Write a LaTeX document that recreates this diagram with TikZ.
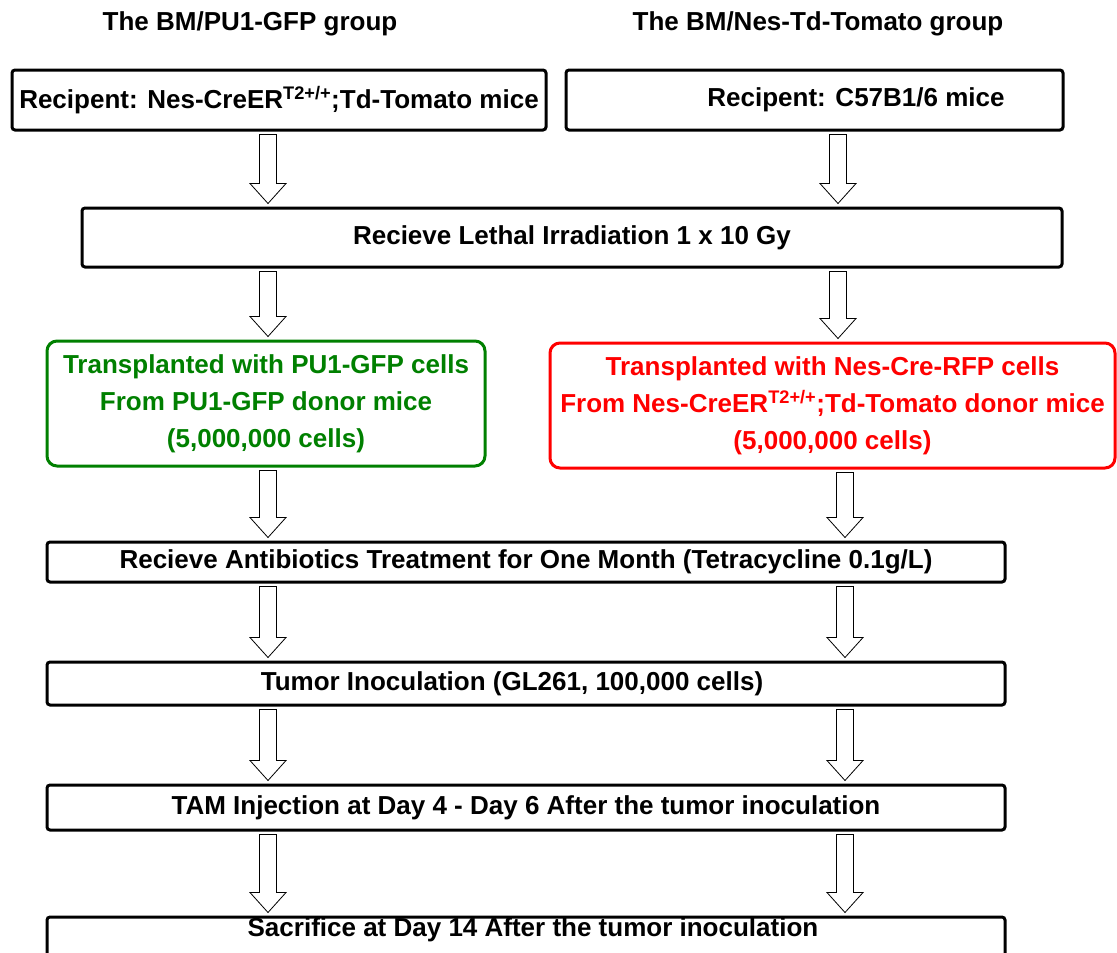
\documentclass[tikz,border=0pt]{standalone}
\usepackage{fontspec}
\setmainfont{Liberation Sans}
\usetikzlibrary{calc}

\definecolor{gfpgreen}{RGB}{0,128,0}
\definecolor{rfpred}{RGB}{255,0,0}

% hollow block arrow between two points (same x)
\newcommand{\hollowarrow}[2]{%
  \draw[flowarrow] let \p1=(#1), \p2=(#2) in
    (\x1-8.5pt,\y1-3pt) -- (\x1+8.5pt,\y1-3pt) -- (\x1+8.5pt,\y2+23pt) -- (\x1+18pt,\y2+23pt)
    -- (\x1,\y2+3pt) -- (\x1-18pt,\y2+23pt) -- (\x1-8.5pt,\y2+23pt) -- cycle;}

\begin{document}
\begin{tikzpicture}[x=1pt, y=-1pt,
    font=\bfseries\fontsize{26}{37}\selectfont,
    stepbox/.style={draw=black, line width=3pt, rounded corners=3pt, inner sep=0pt, align=center},
    groupbox/.style={line width=3pt, rounded corners=10pt, inner sep=0pt, align=center},
    flowarrow/.style={draw=black, line width=0.8pt, fill=white},
    plaintext/.style={inner sep=0pt}]

    % Fix the page to the size of the figure
    \useasboundingbox (0,0) rectangle (1117,953);

    % Columns for the two groups of arrows
    \coordinate (colL) at (268,0);
    \coordinate (colR) at (838,0);
    \coordinate (colRR) at (845,0);

    % Group headings
    \node[plaintext] (headL) at (250,24) {The BM/PU1-GFP group};
    \node[plaintext] (headR) at (818,24) {The BM/Nes-Td-Tomato group};

    % Recipient mice
    \node[stepbox, minimum width=534, minimum height=60] (recL) at (279,100)
        {Recipent: Nes-CreER\textsuperscript{T2+/+};Td-Tomato mice};
    \node[stepbox, minimum width=497, minimum height=60] (recR) at (814.5,100) {};
    \node[plaintext] (recRtext) at (856,100) {Recipent: C57B1/6 mice};

    % Irradiation
    \node[stepbox, minimum width=980, minimum height=59] (irrad) at (572,237.5)
        {Recieve Lethal Irradiation 1 x 10 Gy};

    % Transplanted cells
    \node[groupbox, draw=gfpgreen, text=gfpgreen, minimum width=438, minimum height=125] (gfp) at (266,403.5)
        {Transplanted with PU1-GFP cells\\From PU1-GFP donor mice\\(5,000,000 cells)};
    \node[groupbox, draw=rfpred, text=rfpred, minimum width=565, minimum height=125] (rfp) at (832.5,405.5)
        {Transplanted with Nes-Cre-RFP cells\\From Nes-CreER\textsuperscript{T2+/+};Td-Tomato donor mice\\(5,000,000 cells)};

    % Common steps
    \node[stepbox, minimum width=958, minimum height=40] (abx) at (526,562)
        {Recieve Antibiotics Treatment for One Month (Tetracycline 0.1g/L)};
    \node[stepbox, minimum width=958, minimum height=43] (tumor) at (526,683.5) {};
    \node[plaintext] (tumortext) at (512,683.5) {Tumor Inoculation (GL261, 100,000 cells)};
    \node[stepbox, minimum width=958, minimum height=45] (tam) at (526,807.5)
        {TAM Injection at Day 4 - Day 6 After the tumor inoculation};
    \node[stepbox, minimum width=958, minimum height=58] (sacr) at (526,946) {};
    \node[plaintext] (sacrtext) at (533,930) {Sacrifice at Day 14 After the tumor inoculation};

    % Block arrows
    \hollowarrow{recL.south -| colL}{irrad.north -| colL}
    \hollowarrow{recR.south -| colR}{irrad.north -| colR}
    \hollowarrow{irrad.south -| colL}{gfp.north -| colL}
    \hollowarrow{irrad.south -| colR}{rfp.north -| colR}
    \hollowarrow{gfp.south -| colL}{abx.north -| colL}
    \hollowarrow{rfp.south -| colRR}{abx.north -| colRR}
    \hollowarrow{abx.south -| colL}{tumor.north -| colL}
    \hollowarrow{abx.south -| colRR}{tumor.north -| colRR}
    \hollowarrow{tumor.south -| colL}{tam.north -| colL}
    \hollowarrow{tumor.south -| colRR}{tam.north -| colRR}
    \hollowarrow{tam.south -| colL}{sacr.north -| colL}
    \hollowarrow{tam.south -| colRR}{sacr.north -| colRR}

\end{tikzpicture}
\end{document}
